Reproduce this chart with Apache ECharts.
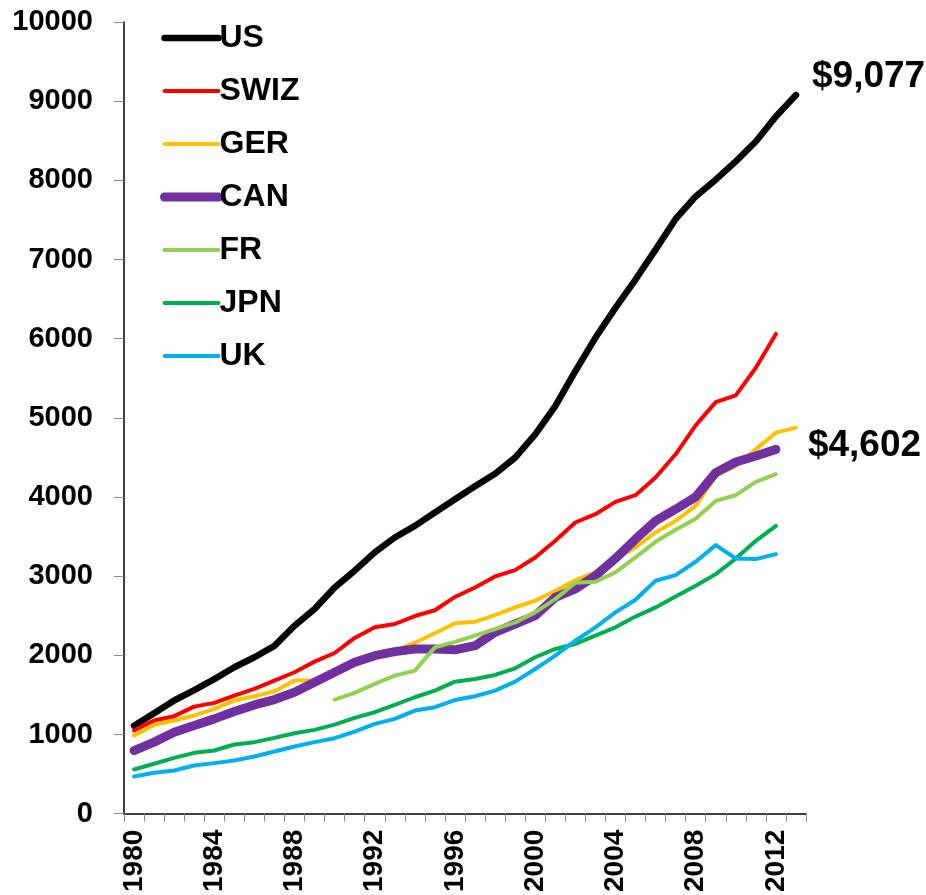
<!DOCTYPE html>
<html>
<head>
<meta charset="utf-8">
<script src="https://cdn.jsdelivr.net/npm/echarts@6/dist/echarts.min.js"></script>
<style>
  html, body { margin: 0; padding: 0; background: #fff; }
  #main { width: 926px; height: 895px; }
</style>
</head>
<body>
<div id="main"></div>
<script>
// years on the x axis
var years = [];
for (var y = 1980; y <= 2013; y++) years.push(String(y));

// values, 1980 onwards
var us   = [1110, 1270, 1430, 1560, 1700, 1850, 1976, 2120, 2375, 2585, 2858, 3070, 3300, 3489, 3636, 3804, 3972, 4135, 4295, 4498, 4792, 5149, 5590, 6011, 6389, 6747, 7125, 7512, 7797, 8008, 8239, 8491, 8806, 9077];
var swiz = [1051, 1177, 1232, 1353, 1400, 1492, 1576, 1681, 1787, 1921, 2030, 2220, 2354, 2396, 2497, 2570, 2738, 2858, 2997, 3077, 3237, 3447, 3678, 3783, 3939, 4023, 4246, 4540, 4905, 5199, 5284, 5633, 6060];
var ger  = [988, 1122, 1177, 1240, 1324, 1429, 1484, 1547, 1681, 1681, 1765, 1880, 1970, 2050, 2160, 2280, 2405, 2425, 2509, 2606, 2690, 2816, 2950, 3048, 3216, 3363, 3552, 3699, 3888, 4266, 4392, 4603, 4813, 4876];
var can  = [798, 904, 1030, 1114, 1198, 1290, 1374, 1442, 1534, 1660, 1786, 1912, 1996, 2047, 2080, 2080, 2070, 2122, 2291, 2396, 2501, 2732, 2840, 3006, 3224, 3468, 3699, 3846, 4002, 4308, 4443, 4519, 4602];
var fr   = [null, null, null, null, null, null, null, null, null, null, 1442, 1526, 1639, 1744, 1807, 2101, 2170, 2249, 2333, 2417, 2543, 2711, 2917, 2930, 3048, 3237, 3434, 3586, 3726, 3951, 4023, 4191, 4288];
var jpn  = [559, 631, 706, 769, 798, 874, 904, 958, 1017, 1059, 1126, 1210, 1282, 1374, 1471, 1555, 1668, 1702, 1753, 1837, 1976, 2081, 2144, 2249, 2354, 2490, 2606, 2743, 2879, 3026, 3224, 3447, 3636];
var uk   = [471, 517, 546, 609, 639, 672, 723, 786, 849, 904, 954, 1036, 1135, 1198, 1303, 1345, 1436, 1484, 1555, 1668, 1828, 1996, 2185, 2354, 2543, 2702, 2942, 3014, 3182, 3392, 3224, 3216, 3279];

var yTicks = { min: 0, max: 10000, interval: 1000 };

var font = "'Liberation Sans', Arial, sans-serif";

function line(name, data, color, width, endText, endOffset) {
    var s = {
        name: name,
        type: 'line',
        data: data,
        symbol: 'none',
        connectNulls: false,
        lineStyle: { color: color, width: width, cap: 'round', join: 'round' },
        itemStyle: { color: color }
    };
    if (endText) {
        s.endLabel = {
            show: true,
            formatter: endText,
            distance: 8,
            offset: endOffset,
            color: '#000',
            fontSize: 37,
            fontWeight: 'bold',
            fontFamily: font
        };
    }
    return s;
}

var chart = echarts.init(document.getElementById('main'));
var option = {
    animation: false,
    backgroundColor: '#fff',
    grid: { left: 124, right: 120, top: 22, bottom: 80 },
    legend: {
        orient: 'vertical',
        left: 155,
        top: 17,
        itemWidth: 54,
        itemHeight: 30,
        itemGap: 21,
        itemStyle: { opacity: 0 },
        lineStyle: { width: 'inherit', cap: 'round' },
        textStyle: { color: '#000', fontSize: 32, fontWeight: 'bold', fontFamily: font, lineHeight: 30, padding: [0, 0, 0, -4] },
        data: ['US', 'SWIZ', 'GER', 'CAN', 'FR', 'JPN', 'UK']
    },
    xAxis: {
        type: 'category',
        data: years,
        boundaryGap: true,
        axisLine: { lineStyle: { color: '#000', width: 1.5 } },
        axisTick: { show: true, interval: 0, length: 8, lineStyle: { color: '#888' } },
        axisLabel: {
            interval: 3,
            rotate: 90,
            margin: 16,
            color: '#000',
            fontSize: 28,
            fontWeight: 'bold',
            fontFamily: font
        },
        splitLine: { show: false }
    },
    yAxis: {
        type: 'value',
        min: yTicks.min,
        max: yTicks.max,
        interval: yTicks.interval,
        axisLine: { show: true, lineStyle: { color: '#000', width: 1.5 } },
        axisTick: { show: true, length: 10, lineStyle: { color: '#888' } },
        axisLabel: {
            margin: 31,
            formatter: function (v) { return String(v); },
            color: '#000',
            fontSize: 29,
            fontWeight: 'bold',
            fontFamily: font
        },
        splitLine: { show: false }
    },
    series: [
        line('US', us, '#000000', 6.5, '$9,077', [8, -18]),
        line('SWIZ', swiz, '#FF0000', 4),
        line('GER', ger, '#FFC000', 4),
        line('CAN', can, '#7030A0', 9, '$4,602', [24, -4]),
        line('FR', fr, '#92D050', 4),
        line('JPN', jpn, '#00B050', 4),
        line('UK', uk, '#00B0F0', 4)
    ]
};
chart.setOption(option);
</script>
</body>
</html>
